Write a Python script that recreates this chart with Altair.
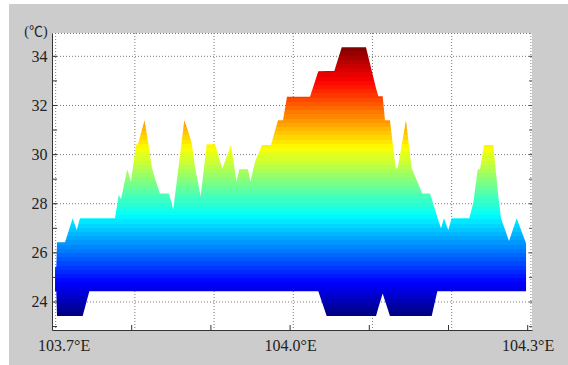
import altair as alt
import pandas as pd

# ---- data ----
LON = [103.7032, 103.7048, 103.7057, 103.7158, 103.7255, 103.7306, 103.7347, 103.7381,
       103.7465, 103.7789, 103.7836, 103.7865, 103.7944, 103.7991, 103.8054, 103.8083,
       103.8162, 103.8210, 103.8253, 103.8294, 103.8357, 103.8471, 103.8525, 103.8664,
       103.8715, 103.8758, 103.8799, 103.8871, 103.8947, 103.9052, 103.9144, 103.9254,
       103.9323, 103.9359, 103.9468, 103.9500, 103.9557, 103.9645, 103.9759, 103.9847,
       103.9910, 103.9961, 104.0251, 104.0356, 104.0462, 104.0558, 104.0652, 104.0958,
       104.1085, 104.1114, 104.1169, 104.1198, 104.1261, 104.1333, 104.1359, 104.1463,
       104.1535, 104.1669, 104.1766, 104.1788, 104.1859, 104.1905, 104.1943, 104.1997,
       104.2040, 104.2263, 104.2313, 104.2369, 104.2398, 104.2448, 104.2566, 104.2629,
       104.2663, 104.2764, 104.2861, 104.2979]

T_HIGH = [25.43, 25.43, 26.43, 26.43, 27.41, 26.93, 27.41, 27.41,
          27.41, 27.41, 28.37, 28.18, 29.40, 28.90, 30.39, 30.47,
          31.40, 30.46, 29.50, 29.03, 28.42, 28.42, 27.77, 31.40,
          30.93, 30.46, 29.50, 28.29, 30.42, 30.42, 29.42, 30.40,
          28.90, 29.40, 29.40, 28.90, 29.71, 30.39, 30.39, 31.40,
          31.40, 32.36, 32.36, 33.39, 33.40, 33.40, 34.37, 34.37,
          32.70, 32.38, 32.38, 31.40, 31.40, 29.44, 29.44, 31.40,
          29.44, 28.42, 28.42, 28.20, 27.45, 27.00, 27.41, 26.93,
          27.41, 27.41, 28.04, 29.40, 29.40, 30.39, 30.39, 28.29,
          27.41, 26.48, 27.41, 26.39]

T_LOW = [24.44, 24.44, 23.43, 23.43, 23.43, 23.43, 23.43, 23.43,
         24.44, 24.44, 24.44, 24.44, 24.44, 24.44, 24.44, 24.44,
         24.44, 24.44, 24.44, 24.44, 24.44, 24.44, 24.44, 24.44,
         24.44, 24.44, 24.44, 24.44, 24.44, 24.44, 24.44, 24.44,
         24.44, 24.44, 24.44, 24.44, 24.44, 24.44, 24.44, 24.44,
         24.44, 24.44, 24.44, 24.44, 23.43, 23.43, 23.43, 23.43,
         23.43, 23.77, 24.35, 24.05, 23.43, 23.43, 23.43, 23.43,
         23.43, 23.43, 23.43, 23.43, 24.44, 24.44, 24.44, 24.44,
         24.44, 24.44, 24.44, 24.44, 24.44, 24.44, 24.44, 24.44,
         24.44, 24.44, 24.44, 24.44]

X_TICKS = [103.7, 103.8, 103.9, 104.0, 104.1, 104.2, 104.3]
X_LABELS = [103.7, 104.0, 104.3]
Y_TICKS = [23, 24, 25, 26, 27, 28, 29, 30, 31, 32, 33, 34]
Y_LABELS = [24, 26, 28, 30, 32, 34]

# ---- styling ----
FONT = "Liberation Serif, Noto Sans CJK SC"
TXT = "#222222"
AX = "#333333"
GRID = "#7a7a7a"
GRID_SHIFT = 0.004
W, H = 480, 297

xs = alt.Scale(domain=[103.69937, 104.30543], nice=False, zero=False)
ys = alt.Scale(domain=[22.86, 34.95], nice=False, zero=False)

XAX = alt.Axis(values=X_LABELS, labelExpr="format(datum.value, '.1f') + '°E'",
               ticks=False, grid=False, title=None, domainColor=AX, domainWidth=1,
               labelFont=FONT, labelFontSize=16, labelColor=TXT, labelPadding=7,
               labelFlush=True, labelFlushOffset=15)
YAX = alt.Axis(values=Y_LABELS, ticks=False, grid=False, domainColor=AX, domainWidth=1,
               labelFont=FONT, labelFontSize=16, labelColor=TXT, labelPadding=5,
               title="(℃)", titleAngle=0, titleX=-16.5, titleY=-1.5, titleAlign="center",
               titleBaseline="middle", titleFont=FONT, titleFontSize=14,
               titleFontWeight="normal", titleColor=TXT)


def jet(v):
    def c(x):
        return min(max(x, 0.0), 1.0)
    r = c(1.5 - abs(4 * v - 3))
    g = c(1.5 - abs(4 * v - 2))
    b = c(1.5 - abs(4 * v - 1))
    return "#%02x%02x%02x" % (round(r * 255), round(g * 255), round(b * 255))


N = 64
stops = []
for i in range(N):
    col = jet((i + 0.5) / N)
    stops.append(alt.GradientStop(offset=i / N, color=col))
    stops.append(alt.GradientStop(offset=(i + 1) / N, color=col))
grad = alt.LinearGradient(gradient="linear", stops=stops, x1=0, x2=0, y1=1, y2=0)

df = pd.DataFrame({"lon": LON, "hi": T_HIGH, "lo": T_LOW})
one = pd.DataFrame({"a": [0]})

# white strips at the left and top edge of the grey figure background
wl = alt.Chart(one).mark_rect(color="white").encode(
    x=alt.value(-52), x2=alt.value(-43), y=alt.value(-33), y2=alt.value(H + 35))
wt = alt.Chart(one).mark_rect(color="white").encode(
    x=alt.value(-52), x2=alt.value(W + 36), y=alt.value(-33), y2=alt.value(-29))

hgrid = alt.Chart(pd.DataFrame({"v": Y_LABELS})).mark_rule(
    color=GRID, strokeDash=[1, 2], strokeWidth=1).encode(
    y=alt.Y("v:Q", scale=ys, axis=YAX))
vgrid = alt.Chart(pd.DataFrame({"v": [t + GRID_SHIFT for t in X_TICKS]})).mark_rule(
    color=GRID, strokeDash=[1, 2], strokeWidth=1).encode(
    x=alt.X("v:Q", scale=xs, axis=XAX))
topb = alt.Chart(one).mark_rule(color=GRID, strokeDash=[1, 2], strokeWidth=1).encode(
    x=alt.value(0), x2=alt.value(W), y=alt.value(0.5))

area = alt.Chart(df).mark_area(color=grad, interpolate="linear").encode(
    x=alt.X("lon:Q", scale=xs, axis=XAX),
    y=alt.Y("hi:Q", scale=ys, axis=YAX),
    y2="lo:Q",
)

xt = alt.Chart(pd.DataFrame({"v": X_TICKS})).mark_rule(color=AX, strokeWidth=1).encode(
    x=alt.X("v:Q", scale=xs, axis=XAX), y=alt.value(H), y2=alt.value(H - 5))
ytl = alt.Chart(pd.DataFrame({"v": Y_TICKS})).mark_rule(color=AX, strokeWidth=1).encode(
    y=alt.Y("v:Q", scale=ys, axis=YAX), x=alt.value(0), x2=alt.value(5))
ytr = alt.Chart(pd.DataFrame({"v": Y_TICKS})).mark_rule(color="#555555", strokeWidth=1).encode(
    y=alt.Y("v:Q", scale=ys, axis=YAX), x=alt.value(W), x2=alt.value(W - 3))

chart = alt.layer(wl, wt, hgrid, vgrid, topb, area, xt, ytl, ytr).properties(
    width=W, height=H,
    autosize=alt.AutoSizeParams(type="none"),
    padding={"left": 52, "top": 33, "right": 36, "bottom": 35},
).configure(background="#cccccc").configure_view(strokeWidth=0, fill="white")

chart.save("out.html", embed_options={"renderer": "svg", "actions": False})
